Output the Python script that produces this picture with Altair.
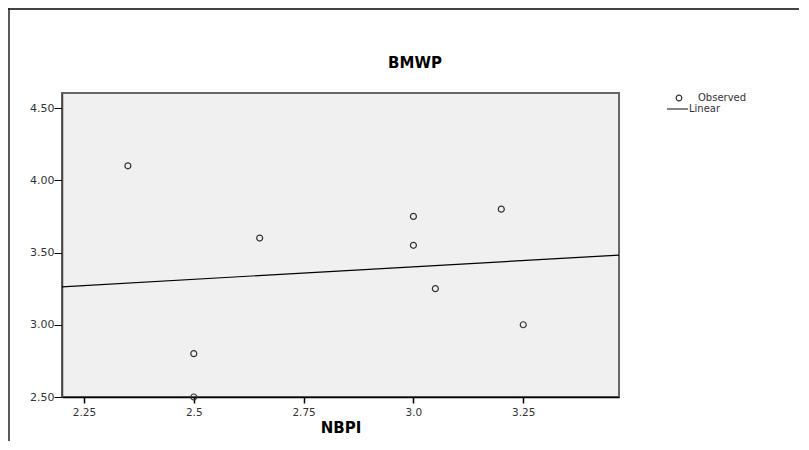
import altair as alt
import pandas as pd

nbpi = [2.35, 2.5, 2.5, 2.65, 3.0, 3.0, 3.05, 3.2, 3.25]
bmwp = [4.10, 2.80, 2.50, 3.60, 3.75, 3.55, 3.25, 3.80, 3.00]
x_ticks = [2.25, 2.5, 2.75, 3.0, 3.25]
x_labels = ["2.25", "2.5", "2.75", "3.0", "3.25"]
y_ticks = [2.5, 3.0, 3.5, 4.0, 4.5]
legend_labels = ["Observed", "Linear"]
chart_title = "BMWP"

df = pd.DataFrame({"NBPI": nbpi, "BMWP": bmwp})
one = pd.DataFrame({"k": [0]})

FONT = "DejaVu Sans"
W, H = 557, 304
XDOM = [2.2, 3.468]
YDOM = [2.5, 4.604]

label_expr = " : ".join(
    f"datum.value == {v} ? '{l}'" for v, l in zip(x_ticks, x_labels)
) + " : ''"

xenc = alt.X("NBPI:Q", scale=alt.Scale(domain=XDOM, nice=False, zero=False),
             axis=alt.Axis(values=x_ticks, labelExpr=label_expr, title="NBPI",
                           grid=False, domainColor="#000000", domainWidth=1.5,
                           tickColor="#000000", tickWidth=1.5,
                           tickSize=6, labelFont=FONT, labelFontSize=10.5, labelColor="#333333",
                           titleFont=FONT, titleFontSize=15, titleFontWeight="bold",
                           titleColor="#000000", titlePadding=3, labelPadding=4))
yenc = alt.Y("BMWP:Q", scale=alt.Scale(domain=YDOM, nice=False, zero=False),
             axis=alt.Axis(values=y_ticks, format=".2f", title=None, grid=False,
                           domainColor="#444444", domainWidth=1.5,
                           tickColor="#000000", tickSize=8,
                           labelFont=FONT, labelFontSize=11, labelColor="#333333",
                           labelPadding=0))

points = alt.Chart(df).mark_point(shape="circle", filled=False, size=36,
                                  stroke="#333333", strokeWidth=1.2, opacity=1).encode(
    x=xenc, y=yenc)

line = alt.Chart(df).transform_regression(
    "NBPI", "BMWP", extent=XDOM
).mark_line(color="#000000", strokeWidth=1.2).encode(
    x=alt.X("NBPI:Q"), y=alt.Y("BMWP:Q"))

# title as text (centered as in the reference)
title_txt = alt.Chart(one).mark_text(align="center", baseline="middle", font=FONT,
                                     fontSize=15, fontWeight="bold", color="#000000",
                                     text=chart_title).encode(
    x=alt.value(353), y=alt.value(-30))

# legend
leg_text1 = alt.Chart(one).mark_text(align="left", baseline="middle", font=FONT,
                                     fontSize=10, color="#333333", text=legend_labels[0]).encode(
    x=alt.value(636), y=alt.value(5))
leg_text2 = alt.Chart(one).mark_text(align="left", baseline="middle", font=FONT,
                                     fontSize=10, color="#333333", text=legend_labels[1]).encode(
    x=alt.value(627), y=alt.value(16))
leg_circle = alt.Chart(one).mark_point(
    shape="circle", filled=False, size=32, stroke="#333333", strokeWidth=1.2, opacity=1).encode(
    x=alt.value(617), y=alt.value(5))
leg_line = alt.Chart(one).mark_rule(color="#333333", strokeWidth=1.2).encode(
    x=alt.value(605), x2=alt.value(626), y=alt.value(16))

# outer frame
frame_top = alt.Chart(one).mark_rule(color="#444444", strokeWidth=2).encode(
    x=alt.value(-54), x2=alt.value(760), y=alt.value(-84))
frame_left = alt.Chart(one).mark_rule(color="#222222", strokeWidth=1.5).encode(
    x=alt.value(-53), y=alt.value(-85), y2=alt.value(360))

chart = alt.layer(points, line, title_txt, leg_text1, leg_text2, leg_circle, leg_line,
                  frame_top, frame_left).properties(
    width=W, height=H,
    autosize=alt.AutoSizeParams(type="none"),
    padding={"left": 54, "top": 85, "right": 180, "bottom": 44},
).configure(
    background="#FFFFFF",
    view=alt.ViewConfig(fill="#F0F0F0", stroke="#666666", strokeWidth=2),
)

chart.save("out.html", embed_options={"renderer": "svg", "actions": False})
